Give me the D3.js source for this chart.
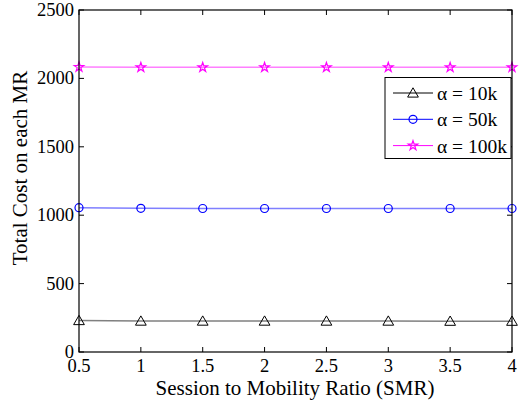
<!DOCTYPE html>
<html>
<head>
<meta charset="utf-8">
<script src="https://cdn.jsdelivr.net/npm/d3@7"></script>
<style>
	body { margin: 0; background: #fff; }
	text { font-family: 'Liberation Serif', 'Times New Roman', serif; }
</style>
</head>
<body>
<script>
const smr = [0.5, 1, 1.5, 2, 2.5, 3, 3.5, 4];
const cost10k = [230, 226, 226, 226, 226, 226, 225, 225];
const cost50k = [1055, 1050, 1049, 1049, 1049, 1049, 1049, 1049];
const cost100k = [2083, 2081, 2081, 2081, 2081, 2081, 2081, 2081];
const xTicks = [0.5, 1, 1.5, 2, 2.5, 3, 3.5, 4];
const yTicks = [0, 500, 1000, 1500, 2000, 2500];
const seriesNames = ['α = 10k', 'α = 50k', 'α = 100k'];

const series = [
	{name: seriesNames[0], values: cost10k, color: '#000000', lineColor: '#808080', marker: 'triangle'},
	{name: seriesNames[1], values: cost50k, color: '#0000ff', lineColor: '#7f7fff', marker: 'circle'},
	{name: seriesNames[2], values: cost100k, color: '#ff00ff', lineColor: '#ff7fff', marker: 'star'}
];

const svgSize = {width: 524, height: 402};
const plot = {left: 79, right: 512, top: 10, bottom: 352};

const svg = d3.select('body').append('svg')
	.attr('width', svgSize.width)
	.attr('height', svgSize.height);

const x = d3.scaleLinear().domain([0.5, 4]).range([plot.left, plot.right]);
const y = d3.scaleLinear().domain([0, 2500]).range([plot.bottom, plot.top]);

// ticks pointing inward, on all four sides
const tickLen = 5;
const grid = svg.append('g');
xTicks.forEach(t => {
	grid.append('line').attr('x1', x(t)).attr('x2', x(t)).attr('y1', plot.bottom).attr('y2', plot.bottom - tickLen).attr('stroke', '#000');
	grid.append('line').attr('x1', x(t)).attr('x2', x(t)).attr('y1', plot.top).attr('y2', plot.top + tickLen).attr('stroke', '#000');
});
yTicks.forEach(t => {
	grid.append('line').attr('x1', plot.left).attr('x2', plot.left + tickLen).attr('y1', y(t)).attr('y2', y(t)).attr('stroke', '#000');
	grid.append('line').attr('x1', plot.right).attr('x2', plot.right - tickLen).attr('y1', y(t)).attr('y2', y(t)).attr('stroke', '#000');
});

svg.append('g').selectAll('text').data(xTicks).enter().append('text')
	.attr('x', d => x(d))
	.attr('y', plot.bottom + 20)
	.attr('text-anchor', 'middle')
	.attr('font-size', 18.5)
	.text(d => d);

svg.append('g').selectAll('text').data(yTicks).enter().append('text')
	.attr('x', plot.left - 5)
	.attr('y', d => y(d) + 6)
	.attr('text-anchor', 'end')
	.attr('font-size', 18.5)
	.text(d => d);

const line = d3.line().x((d, i) => x(smr[i])).y(d => y(d));

function marker(g, type, color, cx, cy) {
	if (type === 'triangle') {
		g.append('path').attr('d', d3.symbol().type(d3.symbolTriangle).size(50)())
			.attr('transform', `translate(${cx},${cy + 1})`)
			.attr('fill', 'none').attr('stroke', color).attr('stroke-width', 1);
	} else if (type === 'circle') {
		g.append('circle').attr('cx', cx).attr('cy', cy).attr('r', 4)
			.attr('fill', 'none').attr('stroke', color).attr('stroke-width', 1.2);
	} else {
		g.append('path').attr('d', d3.symbol().type(d3.symbolStar).size(28)())
			.attr('transform', `translate(${cx},${cy})`)
			.attr('fill', 'none').attr('stroke', color).attr('stroke-width', 1.2);
	}
}

const marks = svg.append('g');
series.forEach(s => {
	marks.append('path').datum(s.values)
		.attr('d', line)
		.attr('fill', 'none')
		.attr('stroke', s.lineColor)
		.attr('stroke-width', 1.5);
	s.values.forEach((v, i) => marker(marks, s.marker, s.color, x(smr[i]), y(v)));
});

// frame
svg.append('rect')
	.attr('x', plot.left).attr('y', plot.top)
	.attr('width', plot.right - plot.left).attr('height', plot.bottom - plot.top)
	.attr('fill', 'none').attr('stroke', '#000').attr('stroke-width', 1.2);

// legend
const legend = svg.append('g');
legend.append('rect')
	.attr('x', 385).attr('y', 77.5).attr('width', 126).attr('height', 81)
	.attr('fill', '#fff').attr('stroke', '#000').attr('stroke-width', 1);
series.forEach((s, i) => {
	const ly = 93 + i * 26.3;
	legend.append('line').attr('x1', 393).attr('x2', 433).attr('y1', ly).attr('y2', ly)
		.attr('stroke', s.color).attr('stroke-width', 1);
	marker(legend, s.marker, s.color, 413, ly);
	legend.append('text').attr('x', 437).attr('y', ly + 7)
		.attr('font-size', 19.5).text(s.name);
});

svg.append('text')
	.attr('x', 295)
	.attr('y', 395)
	.attr('text-anchor', 'middle')
	.attr('font-size', 21)
	.text('Session to Mobility Ratio (SMR)');

svg.append('text')
	.attr('transform', 'rotate(-90)')
	.attr('x', -168)
	.attr('y', 27)
	.attr('text-anchor', 'middle')
	.attr('font-size', 21)
	.text('Total Cost on each MR');
</script>
</body>
</html>
